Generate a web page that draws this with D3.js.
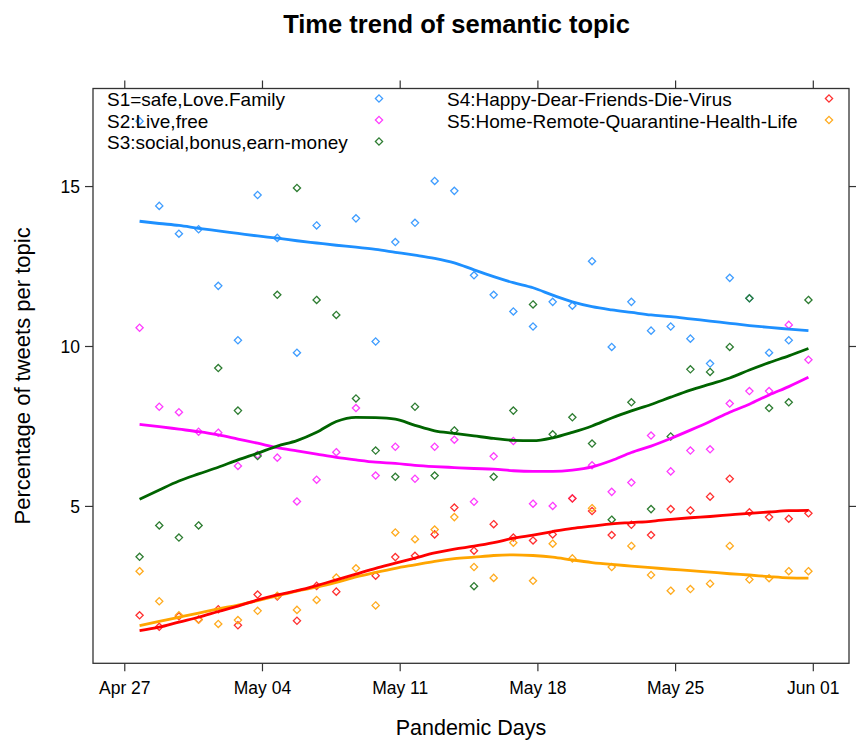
<!DOCTYPE html>
<html>
<head>
<meta charset="utf-8">
<script src="https://cdn.jsdelivr.net/npm/d3@7"></script>
<style>
  html, body { margin: 0; padding: 0; background: #fff; }
  svg { display: block; font-family: "Liberation Sans", Arial, sans-serif; }
</style>
</head>
<body>
<svg id="chart" width="856" height="742"></svg>
<script>
// ---------------- data ----------------
const firstSample = "2020-04-27T18:40:00Z";   // daily samples, 35 days
const nDays = 35;

const seriesNames = ["S1", "S2", "S3", "S4", "S5"];
const legendLabels = [
  "S1=safe,Love.Family",
  "S2:Live,free",
  "S3:social,bonus,earn-money",
  "S4:Happy-Dear-Friends-Die-Virus",
  "S5:Home-Remote-Quarantine-Health-Life"
];
const seriesColors = ["#1e90ff", "#ff00ff", "#006400", "#ff0000", "#ffa500"];
const pointColors  = ["#3f9dff", "#ff3cff", "#2e7d32", "#ff3030", "#ffab1f"];

// observed daily percentages
const s1Points = [17.03, 14.38, 13.51, 13.65, 11.88, 10.18, 14.72, 13.38, 9.79, 13.77, null, 13.99, 10.14, 13.25, 13.85, 15.16, 14.85, 12.21, 11.60, 11.08, 10.61, 11.38, 11.26, 12.65, 9.97, 11.38, 10.48, 10.61, 10.23, 9.45, 12.13, 11.49, 9.79, 10.18, null];
const s2Points = [10.57, 8.10, 7.93, 7.32, 7.29, 6.25, 6.60, 6.51, 5.14, 5.82, 6.68, 8.06, 5.95, 6.85, 5.85, 6.85, 7.07, 5.13, 6.55, 7.03, 5.07, 5.00, 5.24, 6.27, 5.44, 5.73, 7.20, 6.08, 6.73, 6.77, 8.20, 8.59, 8.59, 10.66, 9.57];
const s3Points = [3.41, 4.39, 4.01, 4.39, 9.31, 7.98, 6.56, 11.60, 14.94, 11.44, 10.97, 8.36, 6.73, 5.91, 8.10, 5.95, 7.36, 2.49, 5.91, 7.98, 11.30, 7.24, 7.77, 6.95, 4.57, 8.24, 4.90, 7.17, 9.27, 9.19, 9.97, 11.49, 8.06, 8.24, 11.44];
const s4Points = [1.58, 1.22, 1.55, 1.45, 1.77, 1.27, 2.23, 2.17, 1.41, 2.50, 2.32, null, 2.82, 3.40, 3.44, 4.11, 4.95, 3.60, 4.43, 4.01, 3.92, 4.11, 5.23, 4.84, 4.09, 4.41, 4.09, 4.90, 4.86, 5.29, 5.85, 4.80, 4.65, 4.60, 4.77];
const s5Points = [2.96, 2.02, 1.58, 1.44, 1.31, 1.43, 1.72, 2.19, 1.75, 2.06, 2.76, 3.05, 1.89, 4.17, 3.96, 4.26, 4.65, 3.09, 2.75, 3.85, 2.66, 3.82, 3.36, 4.93, 3.09, 3.75, 2.84, 2.35, 2.40, 2.57, 3.75, 2.70, 2.74, 2.96, 2.96];

// smoothed trend
const s1Smooth = [13.90, 13.83, 13.77, 13.68, 13.60, 13.52, 13.44, 13.37, 13.29, 13.22, 13.15, 13.09, 13.02, 12.93, 12.84, 12.74, 12.60, 12.38, 12.17, 11.98, 11.82, 11.59, 11.38, 11.23, 11.13, 11.05, 10.97, 10.92, 10.85, 10.78, 10.71, 10.64, 10.58, 10.53, 10.48];
const s2Smooth = [7.55, 7.48, 7.40, 7.32, 7.22, 7.09, 6.96, 6.82, 6.72, 6.62, 6.52, 6.44, 6.37, 6.33, 6.27, 6.23, 6.20, 6.17, 6.15, 6.10, 6.08, 6.08, 6.12, 6.22, 6.42, 6.67, 6.87, 7.11, 7.37, 7.64, 7.93, 8.18, 8.47, 8.73, 9.02];
const s3Smooth = [5.21, 5.50, 5.78, 6.00, 6.21, 6.44, 6.65, 6.87, 7.04, 7.30, 7.64, 7.77, 7.76, 7.71, 7.52, 7.35, 7.27, 7.19, 7.11, 7.05, 7.04, 7.13, 7.30, 7.50, 7.75, 7.97, 8.17, 8.40, 8.62, 8.81, 9.00, 9.25, 9.48, 9.69, 9.92];
const s4Smooth = [1.10, 1.21, 1.37, 1.52, 1.70, 1.87, 2.06, 2.22, 2.35, 2.51, 2.69, 2.87, 3.05, 3.21, 3.37, 3.53, 3.65, 3.74, 3.85, 3.99, 4.09, 4.20, 4.30, 4.37, 4.44, 4.48, 4.52, 4.58, 4.63, 4.67, 4.72, 4.77, 4.81, 4.85, 4.86];
const s5Smooth = [1.26, 1.39, 1.52, 1.65, 1.78, 1.90, 2.04, 2.19, 2.34, 2.46, 2.61, 2.78, 2.92, 3.05, 3.16, 3.27, 3.35, 3.40, 3.45, 3.47, 3.45, 3.40, 3.31, 3.23, 3.17, 3.12, 3.07, 3.02, 2.98, 2.93, 2.88, 2.84, 2.79, 2.75, 2.74];

const xTickDates  = ["2020-04-27", "2020-05-04", "2020-05-11", "2020-05-18", "2020-05-25", "2020-06-01"];
const xTickLabels = ["Apr 27", "May 04", "May 11", "May 18", "May 25", "Jun 01"];
const yTickValues = [5, 10, 15];

const titleText = "Time trend of semantic topic";
const xLabel = "Pandemic Days";
const yLabel = "Percentage of tweets per topic";

// ---------------- layout ----------------
const svg = d3.select("#chart");
const box = { left: 93, right: 849, top: 88.5, bottom: 663.3 };
const DAY = 864e5;
const base = Date.UTC(2020, 3, 27);

const days = d3.range(nDays).map(i => d3.utcDay.offset(new Date(firstSample), i));

const x = d3.scaleUtc()
  .domain([new Date(base - 1.59 * DAY), new Date(base + 36.84 * DAY)])
  .range([box.left, box.right]);
const y = d3.scaleLinear()
  .domain([0.08, 18.05])
  .range([box.bottom, box.top]);

const pointsBySeries = [s1Points, s2Points, s3Points, s4Points, s5Points];
const smoothBySeries = [s1Smooth, s2Smooth, s3Smooth, s4Smooth, s5Smooth];

// diamond (square rotated 45deg) like R pch=5
const diamondType = {
  draw(ctx, size) {
    const r = Math.sqrt(size) / 2;
    ctx.moveTo(0, -r); ctx.lineTo(r, 0); ctx.lineTo(0, r); ctx.lineTo(-r, 0); ctx.closePath();
  }
};
const diamond = d3.symbol().type(diamondType).size(52);

// ---------------- title ----------------
svg.append("text")
  .attr("x", 456.5).attr("y", 33)
  .attr("text-anchor", "middle")
  .attr("font-size", 25.5).attr("font-weight", "bold")
  .attr("fill", "#000")
  .text(titleText);

// ---------------- axes ----------------
const xTicks = xTickDates.map(d => new Date(d + "T00:00:00Z"));
const tickLen = 8;
const axisCol = "#333";

const gBottom = svg.append("g").attr("transform", `translate(0,${box.bottom})`)
  .call(d3.axisBottom(x).tickValues(xTicks).tickSize(tickLen).tickPadding(10)
    .tickFormat((d, i) => xTickLabels[i]));
const gTop = svg.append("g").attr("transform", `translate(0,${box.top})`)
  .call(d3.axisTop(x).tickValues(xTicks).tickSize(tickLen).tickFormat(""));
const gLeft = svg.append("g").attr("transform", `translate(${box.left},0)`)
  .call(d3.axisLeft(y).tickValues(yTickValues).tickSize(tickLen).tickPadding(5));
const gRight = svg.append("g").attr("transform", `translate(${box.right},0)`)
  .call(d3.axisRight(y).tickValues(yTickValues).tickSize(tickLen).tickFormat(""));

[gBottom, gTop, gLeft, gRight].forEach(g => {
  g.select(".domain").remove();
  g.selectAll(".tick line").attr("stroke", axisCol).attr("stroke-width", 1.2);
  g.selectAll(".tick text").attr("fill", "#000").attr("font-size", 17.5)
    .attr("font-family", '"Liberation Sans", Arial, sans-serif');
});
gLeft.selectAll(".tick text").attr("dy", "0.36em");

// frame
svg.append("rect")
  .attr("x", box.left).attr("y", box.top)
  .attr("width", box.right - box.left).attr("height", box.bottom - box.top)
  .attr("fill", "none").attr("stroke", axisCol).attr("stroke-width", 1.3);

// axis titles
svg.append("text")
  .attr("x", (box.left + box.right) / 2).attr("y", 735)
  .attr("text-anchor", "middle").attr("font-size", 21.5).attr("fill", "#000")
  .text(xLabel);
svg.append("text")
  .attr("transform", `translate(30,${(box.top + box.bottom) / 2}) rotate(-90)`)
  .attr("text-anchor", "middle").attr("font-size", 22).attr("fill", "#000")
  .text(yLabel);

// ---------------- marks ----------------
const plot = svg.append("g");

pointsBySeries.forEach((vals, si) => {
  const pts = vals.map((v, i) => ({ d: days[i], v })).filter(p => p.v != null);
  plot.append("g").selectAll("path").data(pts).join("path")
    .attr("d", diamond)
    .attr("transform", p => `translate(${x(p.d)},${y(p.v)})`)
    .attr("fill", "none")
    .attr("stroke", pointColors[si])
    .attr("stroke-width", 1.3);
});

const line = d3.line()
  .x(p => x(p.d)).y(p => y(p.v))
  .curve(d3.curveMonotoneX);

[0, 1, 2, 4, 3].forEach(si => {
  const pts = smoothBySeries[si].map((v, i) => ({ d: days[i], v }));
  plot.append("path")
    .datum(pts)
    .attr("d", line)
    .attr("fill", "none")
    .attr("stroke", seriesColors[si])
    .attr("stroke-width", 2.8)
    .attr("stroke-linejoin", "round");
});

// ---------------- legend ----------------
const legendItems = [
  { col: 0, row: 0, s: 0 }, { col: 0, row: 1, s: 1 }, { col: 0, row: 2, s: 2 },
  { col: 1, row: 0, s: 3 }, { col: 1, row: 1, s: 4 }
];
const legCols = [{ textX: 107, markX: 379 }, { textX: 447, markX: 829 }];
const legRowY = [98.5, 120, 141.5];

const leg = svg.append("g");
legendItems.forEach(it => {
  leg.append("text")
    .attr("x", legCols[it.col].textX).attr("y", legRowY[it.row] + 7.5)
    .attr("font-size", 19).attr("fill", "#000")
    .text(legendLabels[it.s]);
  leg.append("path")
    .attr("d", diamond)
    .attr("transform", `translate(${legCols[it.col].markX},${legRowY[it.row]})`)
    .attr("fill", "none").attr("stroke", pointColors[it.s]).attr("stroke-width", 1.3);
});
</script>
</body>
</html>
